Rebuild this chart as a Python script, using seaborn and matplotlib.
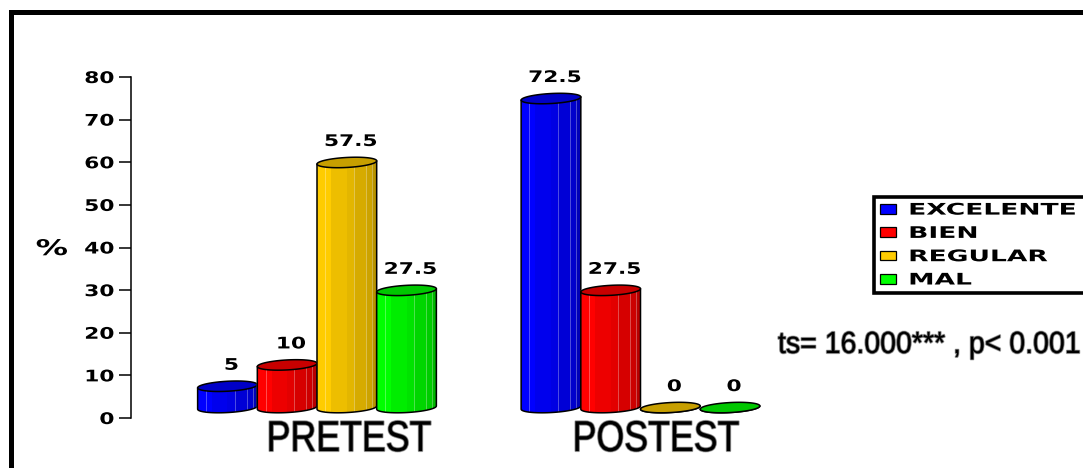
import numpy as np
import pandas as pd
import matplotlib
matplotlib.use("Agg")
import matplotlib.pyplot as plt
import seaborn as sns
from matplotlib.patches import Rectangle, Polygon
from matplotlib.patheffects import AbstractPathEffect
from matplotlib.transforms import Affine2D

phases = ["PRETEST", "POSTEST"]
levels = ["EXCELENTE", "BIEN", "REGULAR", "MAL"]
pretest = [5, 10, 57.5, 27.5]
postest = [72.5, 27.5, 0, 0]
colors = ["#0000FF", "#FF0000", "#FFCC00", "#00FF00"]
y_ticks = [0, 10, 20, 30, 40, 50, 60, 70, 80]
note = "ts= 16.000*** , p< 0.001"

W, H = 1083, 468


class Stretch(AbstractPathEffect):
    """Scale a text about an anchor, optionally with a soft halo."""

    def __init__(self, sx, anchor=0.0, halo=0.0, sy=1.0):
        super().__init__()
        self.sx, self.anchor, self.halo, self.sy = sx, anchor, halo, sy

    def draw_path(self, renderer, gc, tpath, affine, rgbFace=None):
        ext = tpath.get_extents()
        x0 = ext.x0 + self.anchor * ext.width
        tr = Affine2D().translate(-x0, 0).scale(self.sx, self.sy).translate(x0, 0) + affine
        if self.halo:
            for lw, alpha in ((self.halo * 1.8, 0.25), (self.halo, 0.45)):
                g = renderer.new_gc()
                g.copy_properties(gc)
                g.set_linewidth(lw)
                g.set_foreground((0, 0, 0, alpha), isRGBA=True)
                renderer.draw_path(g, tpath, tr, None)
                g.restore()
        renderer.draw_path(gc, tpath, tr, rgbFace)


def shade(color, k):
    r, g, b = matplotlib.colors.to_rgb(color)
    return (r * k, g * k, b * k)


sns.set_theme(style="white")
plt.rcParams["font.family"] = ["DejaVu Sans"]

df = pd.DataFrame({
    "phase": np.repeat(phases, len(levels)),
    "level": levels * len(phases),
    "pct": pretest + postest,
})

fig = plt.figure(figsize=(W / 100, H / 100), dpi=100, facecolor="white")
ax = fig.add_axes([131 / W, 1 - 418 / H, (800 - 131) / W, (418 - 77) / H])
ax.patch.set_alpha(0)

sns.barplot(data=df, x="phase", y="pct", hue="level", order=phases, hue_order=levels,
            palette=colors, width=0.738, gap=0, saturation=1, ax=ax, errorbar=None)

group_px = 323.5
ax.set_xlim((131 - 317) / group_px, (800 - 317) / group_px)
ax.set_ylim(0, 80)

# Cylinder geometry, in data units
px_y = 80 / 341
base = 2.45
b = 5 * px_y
s = 1.6 * px_y
stripes = [(0.00, 0.24, 1.00), (0.24, 0.50, 0.93), (0.50, 0.62, 0.89),
           (0.62, 0.82, 0.84), (0.82, 0.92, 0.80), (0.92, 1.00, 0.72)]
glints = [0.14, 0.62, 0.82, 0.92]

order = 3
for c_idx, container in enumerate(ax.containers):
    col = colors[c_idx]
    for bar in container:
        value = bar.get_height()
        bar.set_y(base)
        bar.set_zorder(order)
        x0 = bar.get_x()
        w = bar.get_width()
        xc, a, top = x0 + w / 2, w / 2, base + value

        t = np.linspace(np.pi, 2 * np.pi, 40)
        low = np.c_[xc + a * np.cos(t), base + s * np.cos(t) + b * np.sin(t)]
        outline = np.vstack([[x0, top - s], low, [x0 + w, top + s]])
        body = Polygon(outline, closed=True, fc="none", ec="black", lw=1.1,
                       zorder=order + 0.3, joinstyle="round")
        ax.add_patch(body)
        for f0, f1, k in stripes:
            r = Rectangle((x0 + f0 * w, base - 2 * b), (f1 - f0) * w, value + 2 * b + 2 * s,
                          fc=shade(col, k), ec="none", zorder=order + 0.1)
            ax.add_patch(r)
            r.set_clip_path(body)
        for f in glints:
            if value > 0:
                r = Rectangle((x0 + f * w, base - 2 * b), 0.003, value + 2 * b,
                              fc=(1, 1, 1, 0.3), ec="none", zorder=order + 0.2)
                ax.add_patch(r)
                r.set_clip_path(body)

        u = np.linspace(0, 2 * np.pi, 80)
        cap = np.c_[xc + a * np.cos(u), top + s * np.cos(u) + b * np.sin(u)]
        ax.add_patch(Polygon(cap, closed=True, fc=shade(col, 0.78), ec="black", lw=1.1,
                             zorder=order + 0.4))
        order += 1

        lab = ax.annotate(f"{value:g}", xy=(xc, top), xytext=(4, 21), textcoords="offset pixels",
                          ha="center", va="center", fontsize=11.5, fontweight="bold",
                          color="black", zorder=50, annotation_clip=False)
        lab.set_path_effects([Stretch(1.36, anchor=0.5)])

# Axis styling
sns.despine(ax=ax, bottom=True)
ax.spines["left"].set_color("black")
ax.spines["left"].set_linewidth(1.1)
ax.set_xticks([])
ax.set_xlabel("")
ax.set_ylabel("")
ax.set_yticks(y_ticks)
ax.tick_params(axis="y", left=True, length=8.6, width=1.1, color="black", pad=3.5)
for tl in ax.get_yticklabels():
    tl.set_fontsize(11.5)
    tl.set_fontweight("bold")
    tl.set_color("black")
    tl.set_path_effects([Stretch(1.36, anchor=1.0)])

fig.text(36 / W, 1 - 249 / H, "%", fontsize=15.5, fontweight="bold", color="black",
         ha="left", va="center", path_effects=[Stretch(1.5, anchor=0.0)])

# Group captions under the bars
for name, x_px in zip(phases, (266, 572)):
    fig.text(x_px / W, 1 - 440 / H, name, family="Liberation Sans", fontsize=31, color="black",
             ha="left", va="center", path_effects=[Stretch(0.83, anchor=0.0, halo=0.9)])

fig.text(778 / W, 1 - 346 / H, note, family="Liberation Sans",
         fontsize=19, color="black", ha="left", va="center",
         path_effects=[Stretch(1.08, anchor=0.0, halo=0.9, sy=1.16)])

# Legend box runs off the right side of the canvas
handles, labels = ax.get_legend_handles_labels()
leg = ax.legend(handles, labels, loc="upper left", mode="expand",
                bbox_to_anchor=(874 / W, 1 - 290 / H, (1095 - 874) / W, 93 / H),
                bbox_transform=fig.transFigure, fontsize=11.5, fancybox=False, framealpha=1,
                edgecolor="black", handlelength=1.0, handleheight=0.55, handletextpad=0.85,
                labelspacing=0.52, borderpad=0.35, borderaxespad=0)
leg.get_frame().set_linewidth(2.6)
leg.set_zorder(60)
for h in leg.legend_handles:
    h.set_edgecolor("black")
    h.set_linewidth(0.9)
for txt in leg.get_texts():
    txt.set_fontweight("bold")
    txt.set_color("black")
    txt.set_path_effects([Stretch(1.66, anchor=0.0)])

# Heavy border along the top and left of the canvas
fig.add_artist(Rectangle((10.5 / W, -0.1), 1.1, 1.1 - 12.5 / H, transform=fig.transFigure,
                         fc="none", ec="black", lw=3.6))

fig.savefig("out.png", dpi=100)
